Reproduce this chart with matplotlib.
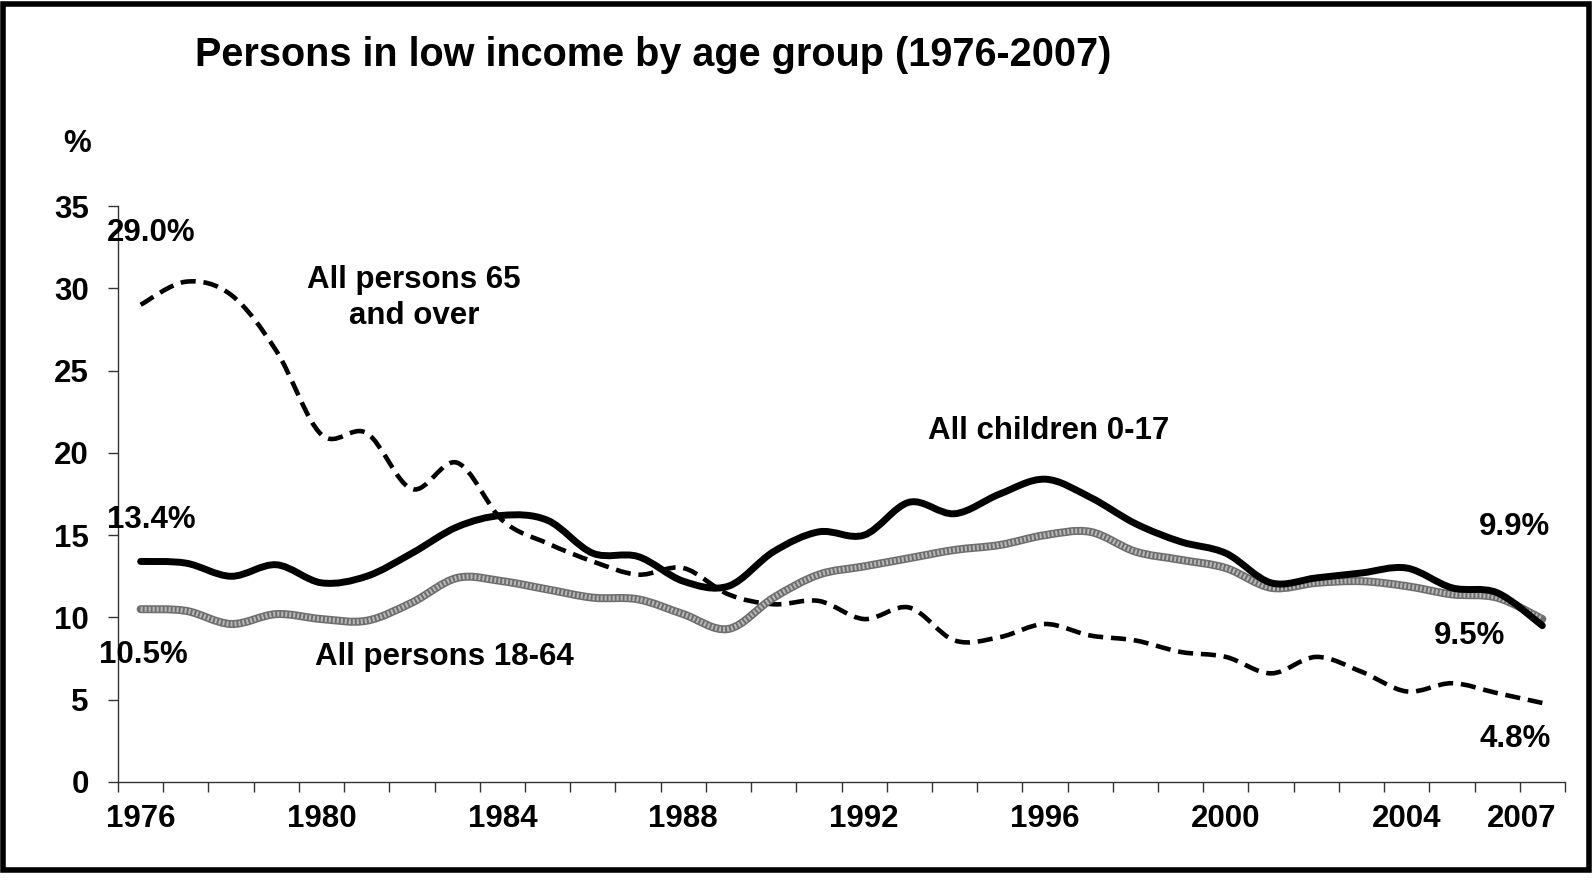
import numpy as np
import matplotlib
matplotlib.use('Agg')
import matplotlib.pyplot as plt
from matplotlib.path import Path
from matplotlib.patches import PathPatch, Rectangle

plt.rcParams['font.family'] = ['Liberation Sans', 'DejaVu Sans']
plt.rcParams['font.weight'] = 'bold'

# data (% of persons in low income)
years = list(range(1976, 2008))
children = [13.4, 13.3, 12.5, 13.2, 12.1, 12.5, 13.9, 15.5, 16.2, 15.9, 13.9, 13.7,
            12.2, 11.9, 14.0, 15.2, 15.0, 17.0, 16.3, 17.5, 18.4, 17.3, 15.7, 14.6,
            13.9, 12.1, 12.4, 12.7, 13.0, 11.8, 11.5, 9.5]
adults = [10.5, 10.4, 9.6, 10.2, 9.9, 9.8, 10.9, 12.4, 12.2, 11.7, 11.2, 11.1,
          10.2, 9.3, 11.2, 12.6, 13.1, 13.6, 14.1, 14.4, 15.0, 15.2, 14.0, 13.5,
          13.0, 11.8, 12.1, 12.2, 11.9, 11.4, 11.2, 9.9]
seniors = [29.0, 30.4, 29.6, 26.2, 21.1, 21.2, 17.8, 19.4, 15.9, 14.5, 13.4, 12.6,
           13.0, 11.4, 10.8, 11.0, 9.9, 10.6, 8.6, 8.8, 9.6, 8.9, 8.6, 7.9,
           7.6, 6.6, 7.6, 6.7, 5.5, 6.0, 5.4, 4.8]
tick_years = [1976, 1980, 1984, 1988, 1992, 1996, 2000, 2004]


def smooth_path(x, y):
    # excel style smoothed line: catmull-rom turned into bezier segments
    p = np.column_stack([x, y]).astype(float)
    n = len(p)
    verts = [p[0]]
    codes = [Path.MOVETO]
    for i in range(n - 1):
        p0 = p[max(i - 1, 0)]
        p1 = p[i]
        p2 = p[i + 1]
        p3 = p[min(i + 2, n - 1)]
        verts += [p1 + (p2 - p0) / 6, p2 - (p3 - p1) / 6, p2]
        codes += [Path.CURVE4] * 3
    return Path(verts, codes)


fig = plt.figure(figsize=(15.93, 8.8), dpi=100)
ax = fig.add_axes([0.0741, 0.1114, 0.9083, 0.6545])

ax.add_patch(PathPatch(smooth_path(years, seniors), fill=False, ec='black', lw=3.3,
                       linestyle=(0, (3.3, 1.7)), capstyle='butt'))
ax.add_patch(PathPatch(smooth_path(years, adults), fill=False, ec='#6e6e6e', lw=5.8,
                       capstyle='round', joinstyle='round'))
ax.add_patch(PathPatch(smooth_path(years, adults), fill=False, ec='#b8b8b8', lw=3.6,
                       linestyle=(0, (0.4, 0.4))))
ax.add_patch(PathPatch(smooth_path(years, children), fill=False, ec='black', lw=5,
                       capstyle='round', joinstyle='round'))

ax.set_xlim(1975.5, 2007.5)
ax.set_ylim(0, 35)
ax.set_yticks(range(0, 36, 5))
ax.set_xticks(tick_years)
ax.set_xticks(np.arange(1975.5, 2008, 1), minor=True)
ax.tick_params(axis='x', which='major', length=0, pad=16, labelsize=22.5)
ax.tick_params(axis='x', which='minor', length=7, width=1, color='#333333', direction='out')
ax.tick_params(axis='y', length=7, width=1, color='#333333', pad=14, labelsize=22.5)
for s in ['top', 'right']:
    ax.spines[s].set_visible(False)
for s in ['left', 'bottom']:
    ax.spines[s].set_color('#333333')
    ax.spines[s].set_linewidth(1)

ax.annotate('2007', xy=(2006.55, 0), xytext=(0, -16), textcoords='offset points',
            ha='center', va='top', fontsize=22.5, annotation_clip=False)

fs = 22.5
ax.text(1976.23, 33.36, '29.0%', ha='center', va='center', fontsize=fs)
ax.text(1976.24, 15.92, '13.4%', ha='center', va='center', fontsize=fs)
ax.text(1976.05, 7.72, '10.5%', ha='center', va='center', fontsize=fs)
ax.text(1982.05, 29.4, 'All persons 65\nand over', ha='center', va='center',
        fontsize=fs, linespacing=1.25)
ax.text(1982.71, 7.6, 'All persons 18-64', ha='center', va='center', fontsize=fs)
ax.text(1996.07, 21.33, 'All children 0-17', ha='center', va='center', fontsize=fs)
ax.text(2006.39, 15.5, '9.9%', ha='center', va='center', fontsize=fs)
ax.text(2005.38, 8.87, '9.5%', ha='center', va='center', fontsize=fs)
ax.text(2006.39, 2.61, '4.8%', ha='center', va='center', fontsize=fs)
ax.text(1974.59, 38.77, '%', ha='center', va='center', fontsize=fs, clip_on=False)

fig.text(653 / 1593, 1 - 66 / 880, 'Persons in low income by age group (1976-2007)',
         ha='center', va='baseline', fontsize=28.5)

fig.patches.append(Rectangle((3 / 1593, 10 / 880), 1586 / 1593, 866 / 880,
                             transform=fig.transFigure, fill=False, ec='black', lw=4))

fig.savefig('out.png', dpi=100)
